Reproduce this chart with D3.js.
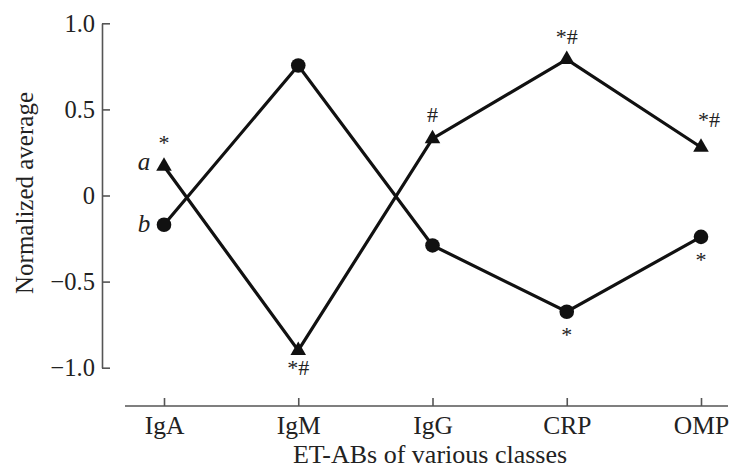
<!DOCTYPE html>
<html>
<head>
<meta charset="utf-8">
<script src="https://cdn.jsdelivr.net/npm/d3@7"></script>
<style>
  html, body { margin: 0; padding: 0; background: #fff; }
  svg { display: block; }
  text { font-family: "Liberation Serif", "Times New Roman", serif; fill: #222; }
</style>
</head>
<body>
<svg id="chart" width="730" height="468"></svg>
<script>
const categories = ["IgA", "IgM", "IgG", "CRP", "OMP"];
const seriesA = [0.17, -0.90, 0.33, 0.79, 0.28];     // triangles (a)
const seriesB = [-0.17, 0.755, -0.29, -0.675, -0.24]; // circles (b)
const yTicks = [-1.0, -0.5, 0, 0.5, 1.0];
const yTickLabels = ["\u22121.0", "\u22120.5", "0", "0.5", "1.0"];
const annotationsA = ["*", "*#", "#", "*#", "*#"];    // above/below triangles
const annotationsB = ["", "", "", "*", "*"];          // below circles

const svg = d3.select("#chart");
const x = d3.scalePoint().domain(categories).range([164, 701]);
const y = d3.scaleLinear().domain([-1, 1]).range([367.7, 23.3]);

const axisColor = "#555";
const serif = "Liberation Serif";

// Y axis
const yAxis = svg.append("g").attr("transform", "translate(102,0)")
  .call(d3.axisLeft(y).tickValues(yTicks)
    .tickFormat((d, i) => yTickLabels[i])
    .tickSizeInner(-8).tickSizeOuter(0).tickPadding(7));
yAxis.select(".domain").attr("stroke", axisColor).attr("stroke-width", 1.6);
yAxis.selectAll(".tick line").attr("stroke", axisColor).attr("stroke-width", 1.6);
yAxis.selectAll(".tick text").style("font-family", serif).attr("font-size", 24.5).attr("fill", "#222");

// X axis
const xAxis = svg.append("g").attr("transform", "translate(0,406)")
  .call(d3.axisBottom(x).tickSizeInner(-8).tickSizeOuter(0).tickPadding(10));
xAxis.select(".domain").remove();
xAxis.append("line").attr("x1", 125).attr("x2", 728).attr("y1", 0).attr("y2", 0)
  .attr("stroke", axisColor).attr("stroke-width", 1.6);
xAxis.selectAll(".tick line").attr("stroke", axisColor).attr("stroke-width", 1.6);
xAxis.selectAll(".tick text").style("font-family", serif).attr("font-size", 25.5).attr("fill", "#222");

// Axis titles
svg.append("text").attr("x", 430).attr("y", 463).attr("text-anchor", "middle")
  .attr("font-size", 26).text("ET-ABs of various classes");
svg.append("text").attr("transform", "translate(33,193) rotate(-90)")
  .attr("text-anchor", "middle").attr("font-size", 25).text("Normalized average");

// Lines
const line = d3.line().x((d, i) => x(categories[i])).y(d => y(d));
svg.append("path").datum(seriesA).attr("d", line)
  .attr("fill", "none").attr("stroke", "#111").attr("stroke-width", 3.2);
svg.append("path").datum(seriesB).attr("d", line)
  .attr("fill", "none").attr("stroke", "#111").attr("stroke-width", 3.2);

// Markers
svg.selectAll(".tri").data(seriesA).enter().append("path")
  .attr("d", d3.symbol().type(d3.symbolTriangle).size(105))
  .attr("transform", (d, i) => `translate(${x(categories[i])},${y(d)})`)
  .attr("fill", "#111");
svg.selectAll(".dot").data(seriesB).enter().append("circle")
  .attr("cx", (d, i) => x(categories[i])).attr("cy", d => y(d)).attr("r", 7.3)
  .attr("fill", "#111");

// Annotations for series A: below for IgM (minimum), above otherwise
const offA = [-16, 25, -17, -15, -20];
const dxA = [0, 0, 0, 0, 8];
svg.selectAll(".annA").data(seriesA).enter().append("text")
  .attr("x", (d, i) => x(categories[i]) + dxA[i])
  .attr("y", (d, i) => y(d) + offA[i])
  .attr("text-anchor", "middle").attr("font-size", 22)
  .text((d, i) => annotationsA[i]);
svg.selectAll(".annB").data(seriesB).enter().append("text")
  .attr("x", (d, i) => x(categories[i]))
  .attr("y", d => y(d) + 30)
  .attr("text-anchor", "middle").attr("font-size", 22)
  .text((d, i) => annotationsB[i]);

// Series labels
svg.append("text").attr("x", 144).attr("y", y(seriesA[0]) + 4)
  .attr("text-anchor", "middle").attr("font-size", 25).attr("font-style", "italic").text("a");
svg.append("text").attr("x", 144).attr("y", y(seriesB[0]) + 7)
  .attr("text-anchor", "middle").attr("font-size", 25).attr("font-style", "italic").text("b");
</script>
</body>
</html>
